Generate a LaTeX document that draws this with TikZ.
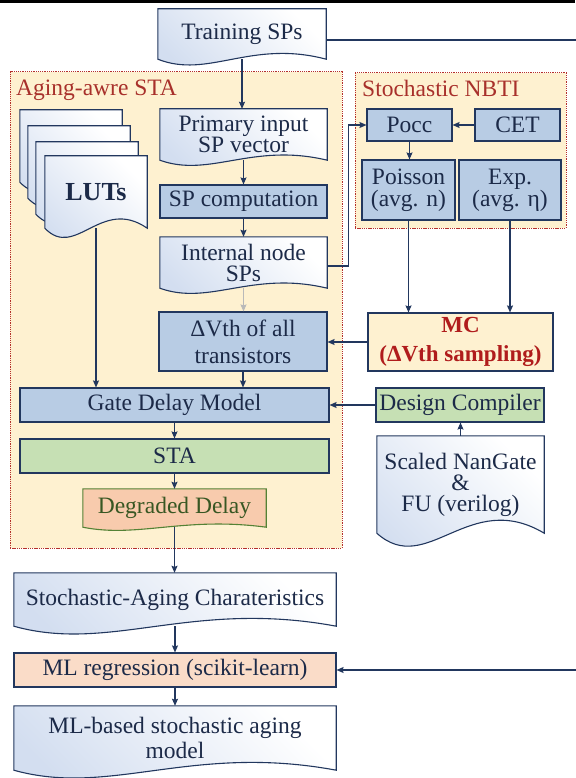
\documentclass[tikz,border=0pt]{standalone}
\usepackage{fontspec}
\setmainfont{LiberationSerif}[
  Extension=.ttf,
  UprightFont=*-Regular,
  BoldFont=*-Bold,
  ItalicFont=*-Italic,
  BoldItalicFont=*-BoldItalic]
\usetikzlibrary{arrows.meta,calc}

\definecolor{navy}{HTML}{22375E}
\definecolor{inkc}{HTML}{1C2A48}
\definecolor{grpfill}{HTML}{FEF1D0}
\definecolor{grpred}{HTML}{B5302C}
\definecolor{titlered}{HTML}{A8302B}
\definecolor{bluefill}{HTML}{B8CCE4}
\definecolor{greenfill}{HTML}{C6E0B4}
\definecolor{orangefill}{HTML}{F8CBAD}
\definecolor{mlrfill}{HTML}{FADCC8}
\definecolor{degborder}{HTML}{548235}
\definecolor{degtext}{HTML}{385723}
\definecolor{mcred}{HTML}{B01C1C}
\definecolor{docblue}{HTML}{D3DEF0}

\pgfdeclarelayer{boxes}
\pgfdeclarelayer{docs}
\pgfsetlayers{boxes,docs,main}

% document outline (flat top, wavy bottom) built on a node's anchors
\newcommand\docshape[2]{%
  \path[docline] (#1.north west) -- (#1.north east) -- (#1.south east)
    .. controls ($(#1.south west)!0.55!(#1.south east)+(0,-#2)$)
            and ($(#1.south west)!0.3!(#1.south east)+(0,#2)$) .. (#1.south west) -- cycle;}

\tikzset{
  every node/.style={font=\fontsize{23.5}{21}\selectfont, text=inkc, inner sep=0pt},
  flow/.style={draw=navy, line width=1.1pt, -{Stealth[length=7pt,width=6pt,inset=1pt]}},
  boxnode/.style={draw=navy, line width=1.1pt, rectangle, align=center},
  bluebox/.style={boxnode, fill=bluefill},
  greenbox/.style={boxnode, fill=greenfill},
  docnode/.style={rectangle, align=center},
  docline/.style={draw=navy, line width=1.1pt, left color=docblue, right color=white, shading angle=135},
  group/.style={draw=grpred, fill=grpfill, line width=1pt, dash pattern=on 1.3pt off 0.9pt, rectangle},
  grouptitle/.style={text=titlered, anchor=west},
}

\begin{document}
\begin{tikzpicture}[x=1pt,y=-1pt]
\useasboundingbox (0,0) rectangle (575,778);
\fill[black] (0,0) rectangle (575,3.5);

% group frames
\begin{pgfonlayer}{boxes}
  \node[group, minimum width=332, minimum height=476] (agingsta) at (176,310) {};
  \node[group, minimum width=211, minimum height=155] (nbti) at (460.5,150.5) {};
\end{pgfonlayer}
\node[grouptitle] (agingtitle) at (16,90) {Aging-awre STA};
\node[grouptitle] (nbtititle) at (362,88) {Stochastic NBTI};

% document-shaped nodes
\node[docnode, minimum width=168, minimum height=50] (tsp) at (242,34) {Training SPs};
\node[docnode, minimum width=167, minimum height=51] (prim) at (243.5,134.5) {Primary input\\SP vector};
\node[docnode, minimum width=167, minimum height=51] (intl) at (243.5,262.5) {Internal node\\SPs};
\node[docnode, minimum width=183, minimum height=38] (deg) at (174.5,508) {\textcolor{degtext}{Degraded Delay}};
\node[docnode, minimum width=102, minimum height=72] (lut1) at (71,146) {};
\node[docnode, minimum width=102, minimum height=72] (lut2) at (79,162) {};
\node[docnode, minimum width=102, minimum height=72] (lut3) at (87,178) {};
\node[docnode, minimum width=102, minimum height=72, font=\fontsize{26}{26}\selectfont\bfseries] (lut4) at (96,192) {LUTs};
\node[docnode, minimum width=167, minimum height=97] (nan) at (460.5,484.5) {Scaled NanGate\\\&\\FU (verilog)};
\node[docnode, minimum width=322, minimum height=53] (sac) at (175,599.5) {Stochastic-Aging Charateristics};
\node[docnode, minimum width=322, minimum height=64, font=\fontsize{23.5}{25}\selectfont] (mlb) at (175,738) {ML-based stochastic aging\\model};

% rectangular nodes
\node[bluebox, minimum width=167, minimum height=33] (spc) at (243.5,201.5) {SP computation};
\node[bluebox, minimum width=168, minimum height=59, font=\fontsize{23.5}{27}\selectfont] (dvth) at (243,341.5) {ΔVth of all\\transistors};
\node[bluebox, minimum width=309, minimum height=34] (gdm) at (174.5,405) {Gate Delay Model};
\node[greenbox, minimum width=309, minimum height=34] (sta) at (174.5,456) {STA};
\node[bluebox, minimum width=85, minimum height=32] (pocc) at (409.5,125) {Pocc};
\node[bluebox, minimum width=85, minimum height=32] (cet) at (517.5,125) {CET};
\node[bluebox, minimum width=93, minimum height=60, font=\fontsize{23.5}{22}\selectfont] (pois) at (408.5,190) {Poisson\\(avg. n)};
\node[bluebox, minimum width=102, minimum height=60, font=\fontsize{23.5}{22}\selectfont] (expn) at (510,190) {Exp.\\(avg. η)};
\node[boxnode, fill=grpfill, minimum width=185, minimum height=58, font=\fontsize{23}{29}\selectfont\bfseries, text=mcred] (mc) at (460.5,342) {MC\\(ΔVth sampling)};
\node[greenbox, minimum width=168, minimum height=34] (dc) at (460,405) {Design Compiler};
\node[boxnode, fill=mlrfill, minimum width=322, minimum height=34] (mlr) at (175,670) {ML regression (scikit-learn)};

% outlines of the document shapes
\begin{pgfonlayer}{docs}
  \docshape{tsp}{20}
  \docshape{prim}{18}
  \docshape{intl}{18}
  \docshape{lut1}{32}
  \docshape{lut2}{32}
  \docshape{lut3}{32}
  \docshape{lut4}{32}
  \docshape{nan}{45}
  \docshape{sac}{27}
  \docshape{mlb}{27}
  \path[draw=degborder, line width=1.1pt, fill=orangefill] (deg.north west) -- (deg.north east) -- (deg.south east)
    .. controls ($(deg.south west)!0.55!(deg.south east)+(0,-11)$)
            and ($(deg.south west)!0.3!(deg.south east)+(0,11)$) .. (deg.south west) -- cycle;
\end{pgfonlayer}

% connectors
\draw[flow] (tsp.south) -- (tsp.south |- prim.north);
\draw[flow] ($(tsp.east)+(0,6)$) -- (600,40) |- (mlr.east);
\draw[flow] (prim.south) -- (prim.south |- spc.north);
\draw[flow] (spc.south) -- (spc.south |- intl.north);
\draw[flow, draw=gray!55] (intl.south) -- (intl.south |- dvth.north);
\draw[flow] ($(intl.east)+(0,3.5)$) -- ++(21,0) |- (pocc.west);
\draw[flow] (cet.west) -- (pocc.east);
\draw[flow] (pocc.south) -- (pocc.south |- pois.north);
\draw[flow] (pois.south) -- (pois.south |- mc.north);
\draw[flow] (expn.south) -- (expn.south |- mc.north);
\draw[flow] (mc.west) -- (mc.west -| dvth.east);
\draw[flow] (dc.west) -- (dc.west -| gdm.east);
\draw[flow] (nan.north) -- (nan.north |- dc.south);
\draw[flow] (lut4.south) -- (lut4.south |- gdm.north);
\draw[flow] (dvth.south) -- (dvth.south |- gdm.north);
\draw[flow] (gdm.south) -- (gdm.south |- sta.north);
\draw[flow] (sta.south) -- (sta.south |- deg.north);
\draw[flow] (deg.south) -- (deg.south |- sac.north);
\draw[flow] (sac.south) -- (sac.south |- mlr.north);
\draw[flow] (mlr.south) -- (mlr.south |- mlb.north);
\end{tikzpicture}
\end{document}
